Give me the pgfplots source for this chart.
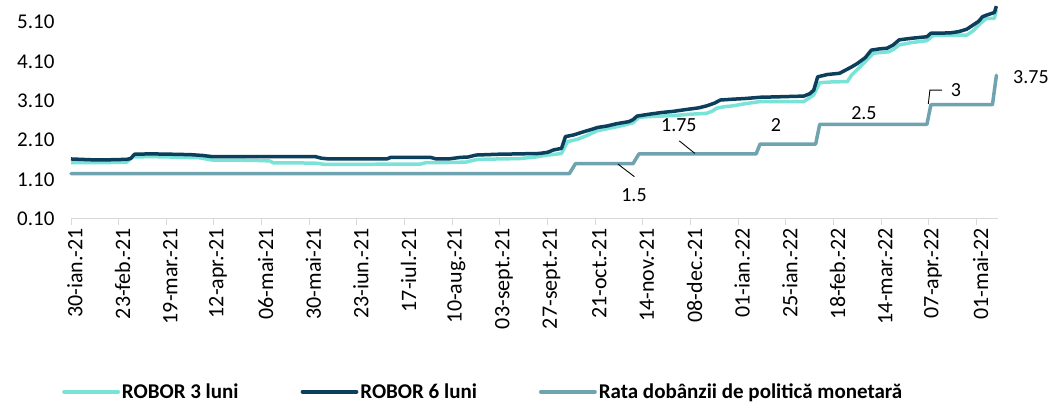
\documentclass[border=0pt]{standalone}
\usepackage{pgfplots}
\pgfplotsset{compat=1.18}
\usepackage{fontspec}
\setmainfont{Carlito}
\definecolor{robthree}{HTML}{7AE3D8}
\definecolor{robsix}{HTML}{0B3F5C}
\definecolor{polrate}{HTML}{6FA3AF}
\definecolor{axgray}{HTML}{D9D9D9}
\begin{document}
\begin{tikzpicture}
\path[use as bounding box] (0,0) rectangle (1051bp,403bp);
\begin{axis}[
  at={(71bp,184.3bp)}, anchor=south west,
  scale only axis, width=927bp, height=218.5bp,
  xmin=0, xmax=466.8, ymin=0.1, ymax=5.66,
  clip=false,
  axis x line*=bottom, axis y line*=left,
  y axis line style={draw=none},
  x axis line style={-, draw=axgray, line width=1.5bp},
  tick align=outside, major tick length=6bp,
  xtick style={draw=axgray, line width=1bp},
  ytick style={draw=none},
  ytick={0.1,1.1,2.1,3.1,4.1,5.1},
  xtick={0,24,...,456},
  xticklabels={30-ian.-21,23-feb.-21,19-mar.-21,12-apr.-21,06-mai-21,30-mai-21,23-iun.-21,17-iul.-21,10-aug.-21,03-sept.-21,27-sept.-21,21-oct.-21,14-nov.-21,08-dec.-21,01-ian.-22,25-ian.-22,18-feb.-22,14-mar.-22,07-apr.-22,01-mai-22},
  xticklabel style={rotate=90, anchor=east, yshift=-4bp, font=\fontsize{22bp}{26bp}\selectfont},
  yticklabel style={font=\fontsize{21bp}{25bp}\selectfont, xshift=-7bp,
    /pgf/number format/.cd, fixed, fixed zerofill, precision=2, assume math mode=true},
  legend style={at={(axis description cs:0,0)}, anchor=west, xshift=-9bp, yshift=-173bp,
    draw=none, fill=none, inner sep=0pt, legend columns=3,
    font=\bfseries\fontsize{21bp}{25bp}\selectfont,
    /tikz/every even column/.append style={column sep=60bp}},
  legend cell align=left,
  legend image code/.code={\draw[#1, line width=3.8bp, line cap=round] (0bp,0bp) -- (54bp,0bp);},
]
\addplot[robthree, line width=3.5bp, line join=round] table {
0 1.53
10 1.53
20 1.53
28 1.54
31 1.67
40 1.68
50 1.67
65 1.65
70 1.60
72 1.59
85 1.59
95 1.58
100 1.57
102 1.52
115 1.52
124 1.51
128 1.48
145 1.48
160 1.49
176 1.49
179 1.53
190 1.53
199 1.54
202 1.58
205 1.61
215 1.62
226 1.63
234 1.67
240 1.72
244 1.74
247 1.76
250 2.06
255 2.12
260 2.22
265 2.34
270 2.39
275 2.44
280 2.50
283 2.54
286 2.68
292 2.70
297 2.71
305 2.73
312 2.76
320 2.78
323 2.84
325 2.91
329 2.95
333 2.97
340 3.03
347 3.08
355 3.08
362 3.08
369 3.08
372 3.18
374 3.25
377 3.56
383 3.58
391 3.59
393 3.75
395 3.85
399 4.05
404 4.31
408 4.33
412 4.35
415 4.44
417 4.52
423 4.58
431 4.63
434 4.76
440 4.77
446 4.77
451 4.77
454 4.87
458 5.07
461 5.20
465 5.20
466 5.41
};
\addlegendentry{ROBOR 3 luni}
\addplot[robsix, line width=3.5bp, line join=round] table {
0 1.62
5 1.61
10 1.60
20 1.60
28 1.61
30 1.63
32 1.74
40 1.75
51 1.74
60 1.73
66 1.71
71 1.68
85 1.68
95 1.68
110 1.68
123 1.68
126 1.64
130 1.62
145 1.62
159 1.62
161 1.66
170 1.66
181 1.66
184 1.62
190 1.62
196 1.66
200 1.67
204 1.72
215 1.74
226 1.75
236 1.76
240 1.79
243 1.85
247 1.89
249 2.19
253 2.23
258 2.31
262 2.37
265 2.42
270 2.46
275 2.52
281 2.57
283 2.62
285 2.71
290 2.75
297 2.80
303 2.83
310 2.88
316 2.92
320 2.97
324 3.04
327 3.12
333 3.14
340 3.16
347 3.19
355 3.20
362 3.21
369 3.22
372 3.28
374 3.37
376 3.71
381 3.77
387 3.80
390 3.88
393 3.96
396 4.05
400 4.20
403 4.39
407 4.42
411 4.44
414 4.52
417 4.65
423 4.69
431 4.73
433 4.82
437 4.82
443 4.83
447 4.86
451 4.92
454 5.02
457 5.12
459 5.24
461 5.28
464 5.33
465 5.35
466 5.51
};
\addlegendentry{ROBOR 6 luni}
\addplot[polrate, line width=3.5bp, line cap=round, line join=round] table {
0 1.25
251 1.25
254 1.50
283 1.50
286 1.75
345 1.75
347 2.00
375 2.00
377 2.50
431 2.50
433 3.00
464 3.00
466 3.75
};
\addlegendentry{Rata dobânzii de politică monetară}
\begin{scope}[every node/.style={font=\fontsize{20bp}{24bp}\selectfont, inner sep=0pt}]
\node at (axis cs:283.5,0.70) {1.5};
\node at (axis cs:306.1,2.48) {1.75};
\node at (axis cs:355,2.48) {2};
\node at (axis cs:399.3,2.80) {2.5};
\node at (axis cs:445.6,3.37) {3};
\node at (axis cs:483.4,3.71) {3.75};
\end{scope}
\draw[black, line width=0.9bp] (axis cs:275.4,1.49) -- (axis cs:283.7,1.17);
\draw[black, line width=0.9bp] (axis cs:306.3,2.08) -- (axis cs:314.2,1.76);
\draw[black, line width=0.9bp] (axis cs:431.7,3.02) -- (axis cs:432.5,3.37) -- (axis cs:438.7,3.37);
\end{axis}
\end{tikzpicture}
\end{document}
